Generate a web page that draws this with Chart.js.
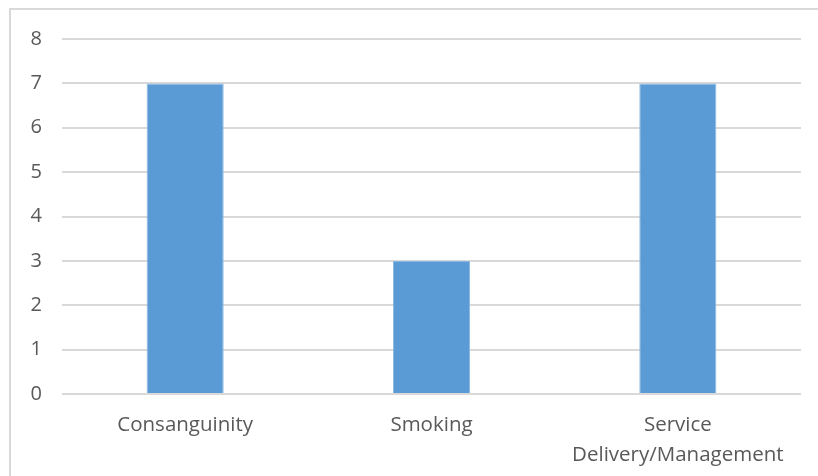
<!DOCTYPE html>
<html>
	<head>
		<meta charset="UTF-8" />
		<title>Chart</title>
		<script src="https://cdn.jsdelivr.net/npm/chart.js@4/dist/chart.umd.min.js"></script>
		<style>
			body{
				margin: 0;
				background: #fff;
			}
			.frame{
				position: absolute;
				left: 9px;
				top: 8px;
				width: 830px;
				height: 480px;
				border: 2px solid #d9d9d9;
			}
			.chart{
				position: absolute;
				left: 0;
				top: 0;
				width: 818px;
				height: 476px;
			}
		</style>
	</head>
	<body>
		<div class="frame"></div>
		<div class="chart">
			<canvas id="barChart"></canvas>
		</div>

		<script>
			// values
			var categories = ['Consanguinity', 'Smoking', ['Service', 'Delivery/Management']];
			var counts = [7, 3, 7];
			var yTicks = [0, 1, 2, 3, 4, 5, 6, 7, 8];

			var font = "'Open Sans', sans-serif";

			new Chart(document.getElementById('barChart'), {
				type: 'bar',
				data: {
					labels: categories,
					datasets: [{
						data: counts,
						backgroundColor: '#5b9bd5',
						borderColor: '#8bb8e2',
						borderWidth: 1,
						barPercentage: 0.313,
						categoryPercentage: 1
					}]
				},
				options: {
					responsive: true,
					maintainAspectRatio: false,
					animation: false,
					layout: { padding: { top: 39, right: 17, left: 0, bottom: 0 } },
					plugins: {
						legend: { display: false },
						tooltip: { enabled: false }
					},
					scales: {
						x: {
							grid: { display: false, drawTicks: false },
							border: { display: false },
							ticks: {
								color: '#595959',
								font: { family: font, size: 20.5, lineHeight: 1.42 },
								padding: 17,
								maxRotation: 0,
								autoSkip: false
							},
							afterFit: function (s) { s.height = 82; }
						},
						y: {
							min: 0,
							max: 8,
							afterBuildTicks: function (s) {
								s.ticks = yTicks.map(function (v) { return { value: v }; });
							},
							grid: { color: '#d9d9d9', lineWidth: 2, drawTicks: false },
							border: { display: false },
							ticks: {
								color: '#595959',
								font: { family: font, size: 20 },
								padding: 20
							},
							afterFit: function (s) { s.width = 62; }
						}
					}
				}
			});
		</script>
	</body>
</html>
